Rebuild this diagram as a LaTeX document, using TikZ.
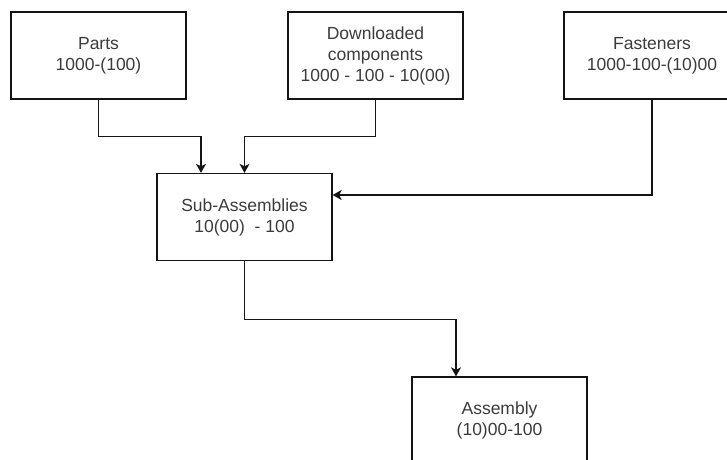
\documentclass[tikz,border=0pt]{standalone}
\usepackage{fontspec}
\setmainfont{Liberation Sans}
\usetikzlibrary{arrows.meta}
\definecolor{txt}{RGB}{60,60,60}
\definecolor{ln}{RGB}{20,20,20}
\tikzset{
  box/.style={draw=ln, line width=1.3pt, rectangle, minimum width=175pt, minimum height=87pt,
    inner sep=0pt, align=center, text=txt, font=\fontsize{17.5}{21}\selectfont},
  conn/.style={draw=ln, line width=1.3pt, -{Stealth[length=9pt,width=10pt,inset=2.5pt]}}
}
\begin{document}
\begin{tikzpicture}[x=1pt,y=-1pt]
\useasboundingbox[fill=white] (0,0) rectangle (727,459);
\clip (0,0) rectangle (727,459);
\node[box] (parts) at (98.5,55.5) {Parts\\1000-(100)};
\node[box] (down) at (375.5,55.5) {Downloaded\\components\\1000 - 100 - 10(00)};
\node[box, minimum width=176pt] (fast) at (652,55.5) {Fasteners\\1000-100-(10)00};
\node[box] (sub) at (244.5,217) {Sub-Assemblies\\10(00)\ \ - 100};
\node[box] (asm) at (499.5,420.5) {Assembly\\(10)00-100};
\draw[conn] (parts.south) -- ++(0,37) -| ([xshift=-43.5pt]sub.north);
\draw[conn] (down.south) -- ++(0,37) -| (sub.north);
\draw[conn] (fast.south) |- ([yshift=22pt]sub.east);
\draw[conn] (sub.south) -- ++(0,58) -| ([xshift=-43.5pt]asm.north);
\end{tikzpicture}
\end{document}
